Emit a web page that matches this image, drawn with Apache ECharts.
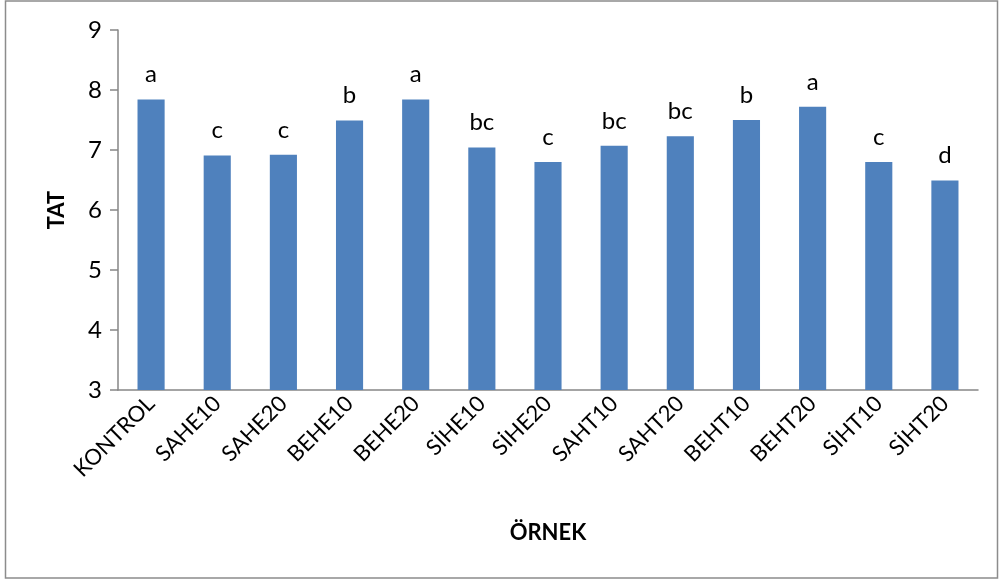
<!DOCTYPE html>
<html>
<head>
<meta charset="utf-8">
<script src="https://cdn.jsdelivr.net/npm/echarts@6/dist/echarts.min.js"></script>
<style>
html,body{margin:0;padding:0;background:#fff;}
#chart{width:1000px;height:581px;}
</style>
</head>
<body>
<div id="chart"></div>
<script>
const categories = ["KONTROL","SAHE10","SAHE20","BEHE10","BEHE20","SİHE10","SİHE20","SAHT10","SAHT20","BEHT10","BEHT20","SİHT10","SİHT20"];
const values = [7.84, 6.91, 6.92, 7.49, 7.84, 7.04, 6.80, 7.07, 7.23, 7.50, 7.72, 6.80, 6.49];
const letters = ["a","c","c","b","a","bc","c","bc","bc","b","a","c","d"];
const yTicks = [3,4,5,6,7,8,9];

const FONT = "Lato";
const chart = echarts.init(document.getElementById('chart'));
chart.setOption({
  backgroundColor: '#fff',
  animation: false,
  graphic: [{
    type: 'rect', shape: {x: 5.5, y: 1, width: 992, height: 577},
    style: {fill: 'none', stroke: '#8c8c8c', lineWidth: 1.5}, silent: true
  }],
  grid: {left: 118, right: 22, top: 30, bottom: 191},
  xAxis: {
    type: 'category', data: categories,
    name: 'ÖRNEK', nameLocation: 'middle', nameGap: 132,
    nameTextStyle: {fontFamily: FONT, fontWeight: 'bold', fontSize: 22, color: '#000'},
    axisLine: {lineStyle: {color: '#868686', width: 1.5}},
    axisTick: {show: false},
    axisLabel: {rotate: 45, interval: 0, fontFamily: FONT, fontSize: 22, color: '#000', margin: 10}
  },
  yAxis: {
    type: 'value', min: yTicks[0], max: yTicks[yTicks.length-1], interval: 1,
    name: 'TAT', nameLocation: 'middle', nameGap: 50,
    nameTextStyle: {fontFamily: FONT, fontWeight: 'bold', fontSize: 22, color: '#000'},
    axisLine: {show: true, lineStyle: {color: '#868686', width: 1.5}},
    axisTick: {show: true, length: 8, lineStyle: {color: '#868686', width: 1.5}},
    splitLine: {show: false},
    axisLabel: {fontFamily: FONT, fontSize: 24, color: '#000', margin: 16}
  },
  series: [{
    type: 'bar', data: values, barWidth: '41%',
    itemStyle: {color: '#4F81BD'},
    label: {
      show: true, position: 'top', distance: 13,
      fontFamily: FONT, fontSize: 24, color: '#000',
      formatter: p => letters[p.dataIndex]
    }
  }]
});
</script>
</body>
</html>
